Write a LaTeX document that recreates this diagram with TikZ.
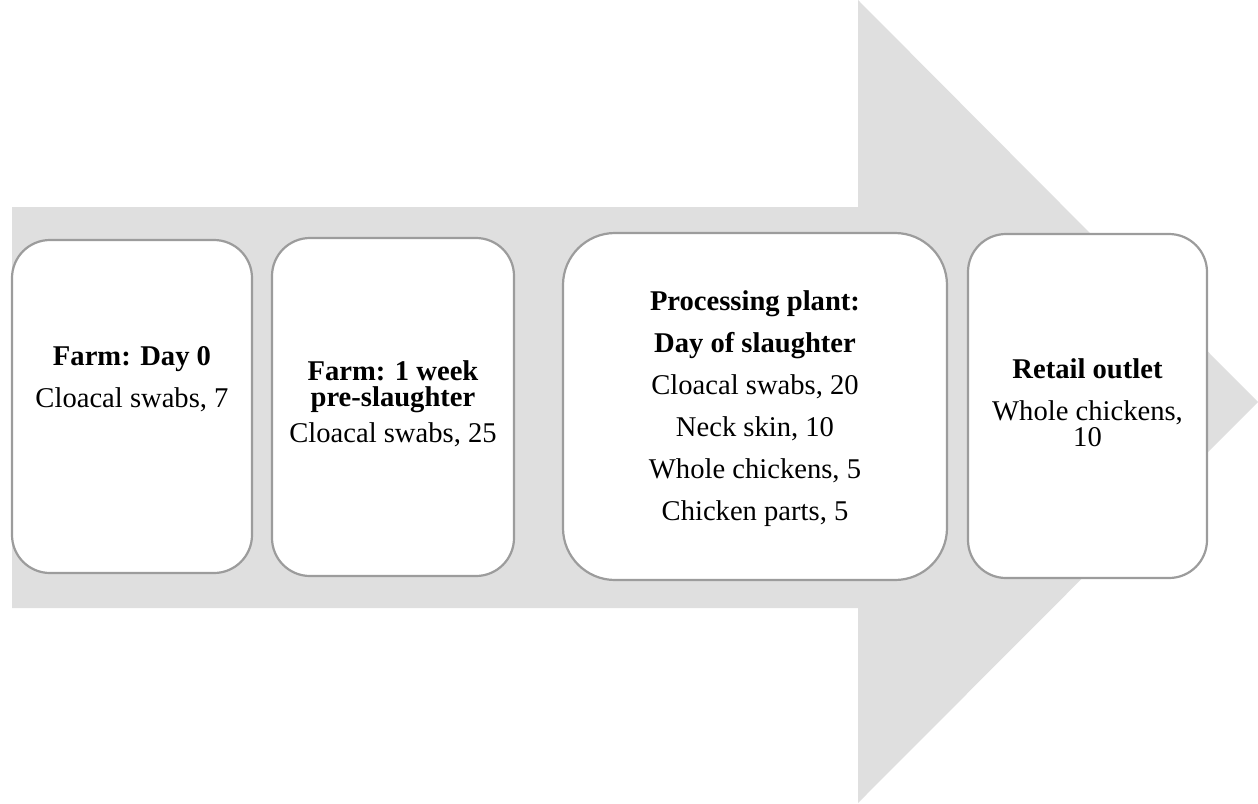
\documentclass[tikz,border=0pt]{standalone}
\usepackage{fontspec}
\setmainfont{Liberation Serif}
\definecolor{arrowgray}{HTML}{DFDFDF}
\definecolor{boxgray}{HTML}{9C9C9C}
\begin{document}
\begin{tikzpicture}[x=0.5pt,y=-0.5pt,
  stage/.style={draw=boxgray, line width=1.1pt, fill=white, rounded corners=19pt, inner sep=0pt},
  lbl/.style={anchor=base, inner sep=0pt, font=\fontsize{14.3}{21}\selectfont}]
\useasboundingbox (0,0) rectangle (1258,803);
\fill[arrowgray] (12,207) -- (858,207) -- (858,0) -- (1258,402) -- (858,803) -- (858,608) -- (12,608) -- cycle;
\node[stage, minimum width=120pt, minimum height=166.5pt] (b1) at (132,406.5) {};
\node[stage, minimum width=121pt, minimum height=169pt] (b2) at (393,407) {};
\node[stage, rounded corners=26pt, minimum width=192pt, minimum height=173.5pt] (b3) at (755,406.5) {};
\node[stage, minimum width=119.5pt, minimum height=172pt] (b4) at (1087.5,406) {};
\node[lbl] (t1) at (132,365) {\begin{tabular}[t]{@{}c@{}}\textbf{Farm: Day 0}\\Cloacal swabs, 7\end{tabular}};
\node[lbl] (t2) at (393,380) {\begin{tabular}[t]{@{}c@{}}\textbf{Farm: 1 week}\\[-8pt]\textbf{pre-slaughter}\\[-3pt]Cloacal swabs, 25\end{tabular}};
\node[lbl] (t3) at (755,310) {\begin{tabular}[t]{@{}c@{}}\textbf{Processing plant:}\\\textbf{Day of slaughter}\\Cloacal swabs, 20\\Neck skin, 10\\Whole chickens, 5\\Chicken parts, 5\end{tabular}};
\node[lbl] (t4) at (1087.5,378) {\begin{tabular}[t]{@{}c@{}}\textbf{Retail outlet}\\Whole chickens,\\[-8pt]10\end{tabular}};
\end{tikzpicture}
\end{document}
